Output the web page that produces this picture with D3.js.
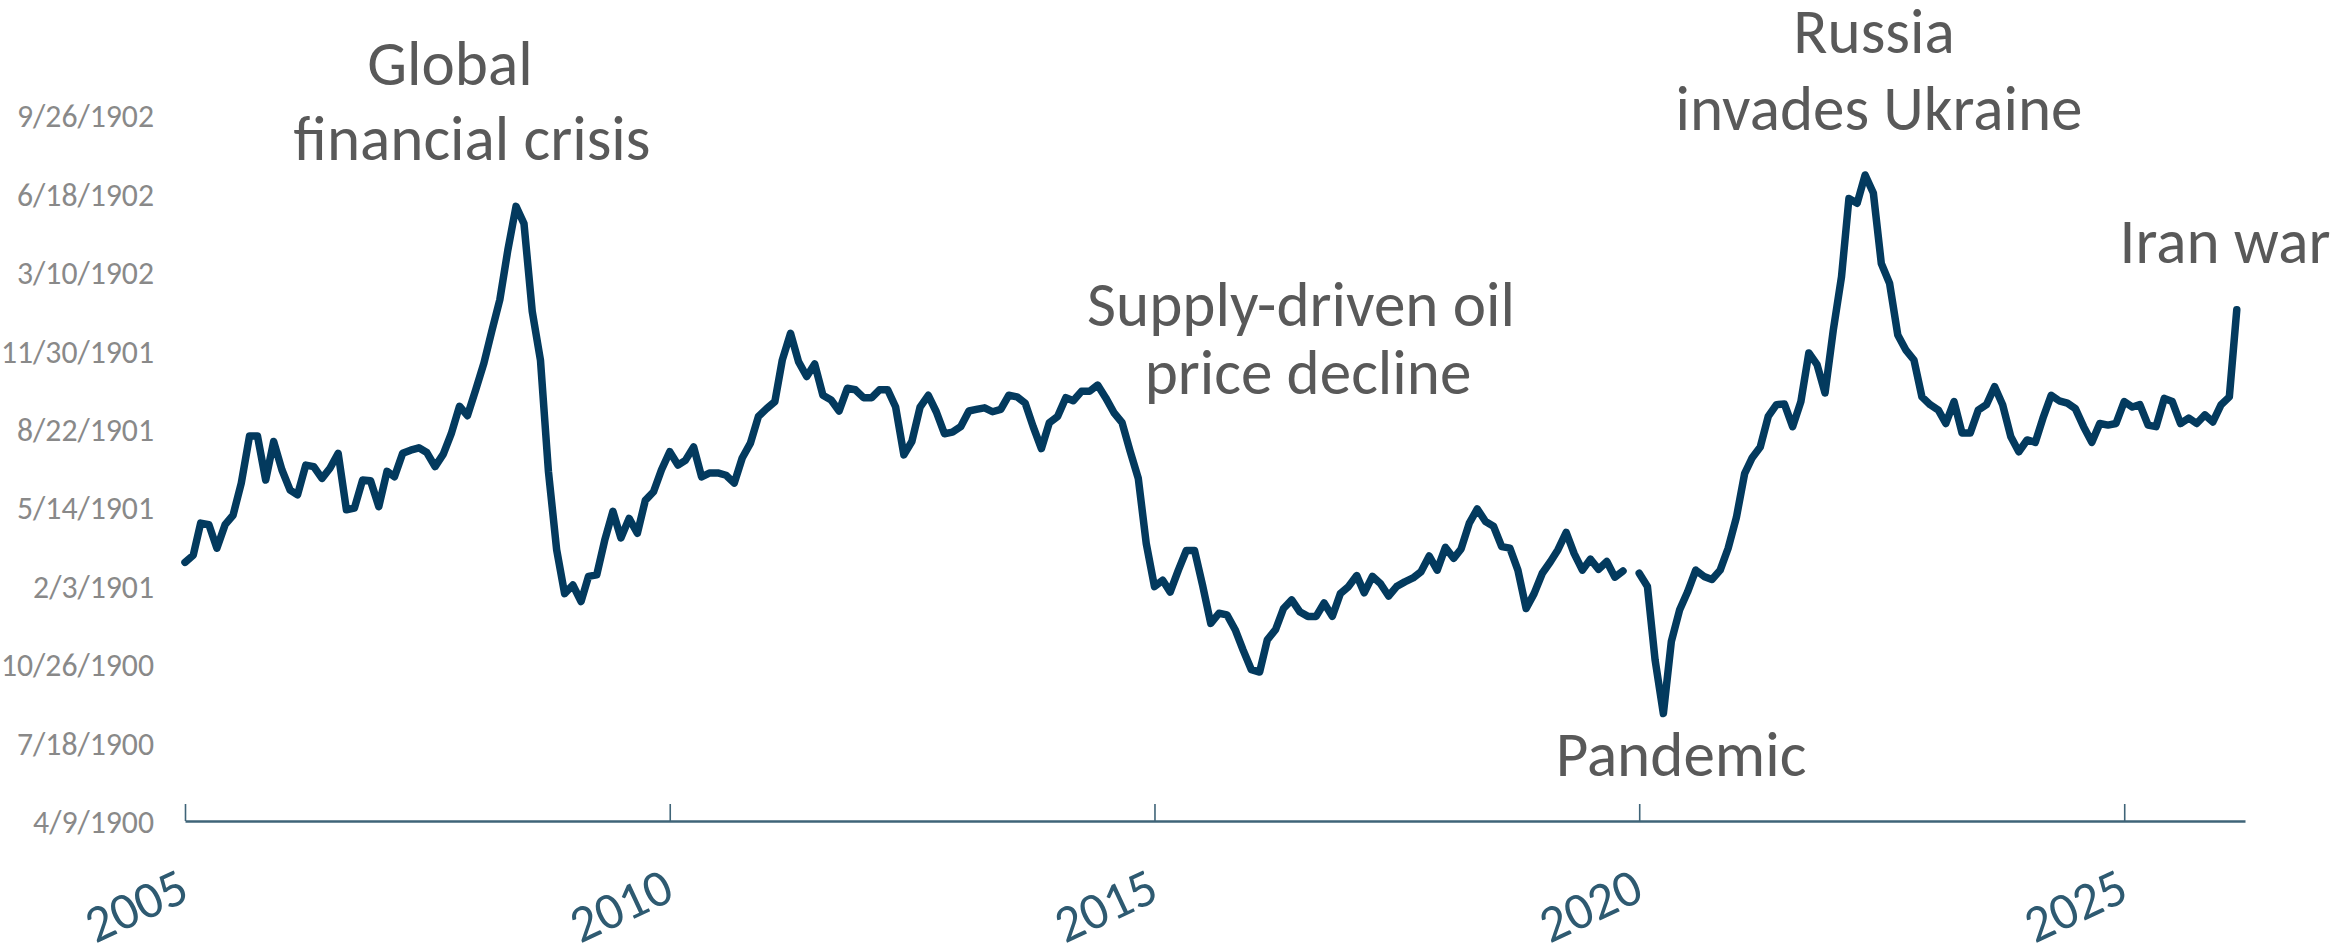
<!DOCTYPE html>
<html>
<head>
<meta charset="utf-8">
<script src="https://cdn.jsdelivr.net/npm/d3@7"></script>
<style>
  body { margin: 0; background: #fff; }
  svg { display: block; }
</style>
</head>
<body>
<div id="chart"></div>
<script>
// monthly series, first value = Jan 2005, last = Mar 2026 (null = month with no value)
const firstYear = 2005;
const values = [
  430, 439, 480, 478, 448, 478, 490, 531, 591, 591, 535, 584,   // 2005
  548, 522, 516, 554, 552, 537, 550, 569, 497, 499, 535, 534,   // 2006
  501, 546, 539, 569, 573, 576, 570, 552, 568, 594, 629, 617,   // 2007
  650, 684, 724, 765, 828, 884, 862, 750, 688, 546, 446, 390,   // 2008
  401, 380, 412, 414, 458, 495, 461, 486, 467, 509, 520, 548,   // 2009
  571, 554, 560, 577, 539, 544, 544, 541, 531, 563, 582, 616,   // 2010
  626, 635, 688, 722, 686, 667, 683, 643, 637, 623, 652, 650,   // 2011
  640, 640, 650, 650, 628, 567, 584, 628, 643, 622, 594, 596,   // 2012
  603, 623, 625, 627, 622, 625, 643, 641, 633, 603, 575, 608,   // 2013
  616, 640, 636, 648, 648, 656, 640, 621, 608, 572, 537, 454,   // 2014
  399, 407, 392, 420, 445, 445, 401, 352, 365, 363, 344, 318,   // 2015
  293, 290, 331, 344, 371, 382, 367, 361, 361, 378, 361, 390,   // 2016
  399, 413, 391, 412, 403, 387, 399, 405, 410, 418, 438, 420,   // 2017
  449, 435, 447, 480, 498, 482, 476, 450, 448, 420, 371, 390,   // 2018
  416, 431, 446, 468, 441, 420, 434, 421, 431, 411, 419, null,  // 2019
  416, 399, 305, 237, 329, 369, 392, 420, 412, 408, 420, 448,   // 2020
  487, 543, 563, 577, 616, 631, 632, 603, 635, 697, 682, 646,   // 2021
  726, 794, 894, 888, 924, 901, 811, 786, 720, 701, 688, 641,   // 2022
  631, 624, 607, 635, 595, 595, 624, 631, 654, 631, 590, 571,   // 2023
  586, 583, 614, 643, 636, 633, 626, 603, 583, 607, 605, 607,   // 2024
  635, 628, 631, 605, 603, 639, 635, 607, 614, 607, 618, 609,   // 2025
  631, 641, 752                                                  // 2026
];

// y tick values (the source formats them as Excel dates)
const yTicks = [100, 200, 300, 400, 500, 600, 700, 800, 900, 1000];
const xTickYears = [2005, 2010, 2015, 2020, 2025];

const noteLines = [
  { text: "Global", x: 450, y: 85 },
  { text: "financial crisis", x: 472, y: 160 },
  { text: "Supply-driven oil", x: 1301, y: 326 },
  { text: "price decline", x: 1308, y: 394 },
  { text: "Pandemic", x: 1681, y: 776 },
  { text: "Russia", x: 1874, y: 53 },
  { text: "invades Ukraine", x: 1879, y: 130 },
  { text: "Iran war", x: 2225, y: 263 }
];

const width = 2344, height = 951;
const fontFamily = "Carlito, Calibri, Lato, sans-serif";

const svg = d3.select("#chart")
  .append("svg")
  .attr("width", width)
  .attr("height", height);

// font size that gives a sample string a wanted width
function fitSize(sample, target) {
  const t = svg.append("text")
    .attr("font-family", fontFamily)
    .attr("font-size", 100)
    .text(sample);
  const len = t.node().getComputedTextLength();
  t.remove();
  return 100 * target / len;
}

const data = values.map((v, i) => ({
  date: d3.utcMonth.offset(new Date(Date.UTC(firstYear, 0, 1)), i),
  value: v
}));

const x = d3.scaleUtc()
  .domain([new Date(Date.UTC(firstYear, 0, 1)), new Date(Date.UTC(2026, 3, 1))])
  .range([185, 2245]);

const y = d3.scaleLinear()
  .domain([100, 1000])
  .range([821, 115.4]);

// Excel serial number -> m/d/yyyy
const excelDate = n => d3.utcFormat("%-m/%-d/%Y")(new Date(Date.UTC(1899, 11, 30) + n * 864e5));

// Y axis: labels only
const ySize = fitSize("9/26/1902", 137);
const yAxis = svg.append("g")
  .attr("transform", "translate(154,0)")
  .call(d3.axisLeft(y).tickValues(yTicks).tickSize(0).tickPadding(0).tickFormat(excelDate));
yAxis.select(".domain").remove();
yAxis.selectAll("text")
  .attr("font-family", fontFamily)
  .attr("font-size", ySize)
  .attr("fill", "#898989")
  .attr("dy", "0.36em");

// X axis
const xSize = fitSize("2010", 106);
const xAxis = svg.append("g")
  .attr("transform", `translate(0,${y(100)})`)
  .call(d3.axisBottom(x)
    .tickValues(xTickYears.map(yr => new Date(Date.UTC(yr, 0, 1))))
    .tickSize(-17)
    .tickSizeOuter(0)
    .tickFormat(d3.utcFormat("%Y")));
xAxis.select(".domain")
  .attr("stroke", "#3f6478")
  .attr("stroke-width", 2.5);
xAxis.selectAll(".tick line")
  .attr("stroke", "#3f6478")
  .attr("stroke-width", 1.6);
xAxis.selectAll(".tick text")
  .attr("font-family", fontFamily)
  .attr("font-size", xSize)
  .attr("fill", "#2e5a71")
  .attr("text-anchor", "end")
  .attr("y", 0)
  .attr("dy", 0)
  .attr("transform", "translate(6,78) rotate(-25)");

// the line
svg.append("path")
  .datum(data)
  .attr("fill", "none")
  .attr("stroke", "#033a5e")
  .attr("stroke-width", 7.5)
  .attr("stroke-linejoin", "round")
  .attr("stroke-linecap", "round")
  .attr("d", d3.line()
    .defined(d => d.value !== null)
    .x(d => x(d.date))
    .y(d => y(d.value)));

// annotations
const noteSize = fitSize("Supply-driven oil", 428);
svg.append("g")
  .selectAll("text")
  .data(noteLines)
  .join("text")
  .attr("x", d => d.x)
  .attr("y", d => d.y)
  .attr("text-anchor", "middle")
  .attr("font-family", fontFamily)
  .attr("font-size", noteSize)
  .attr("fill", "#595959")
  .text(d => d.text);
</script>
</body>
</html>
